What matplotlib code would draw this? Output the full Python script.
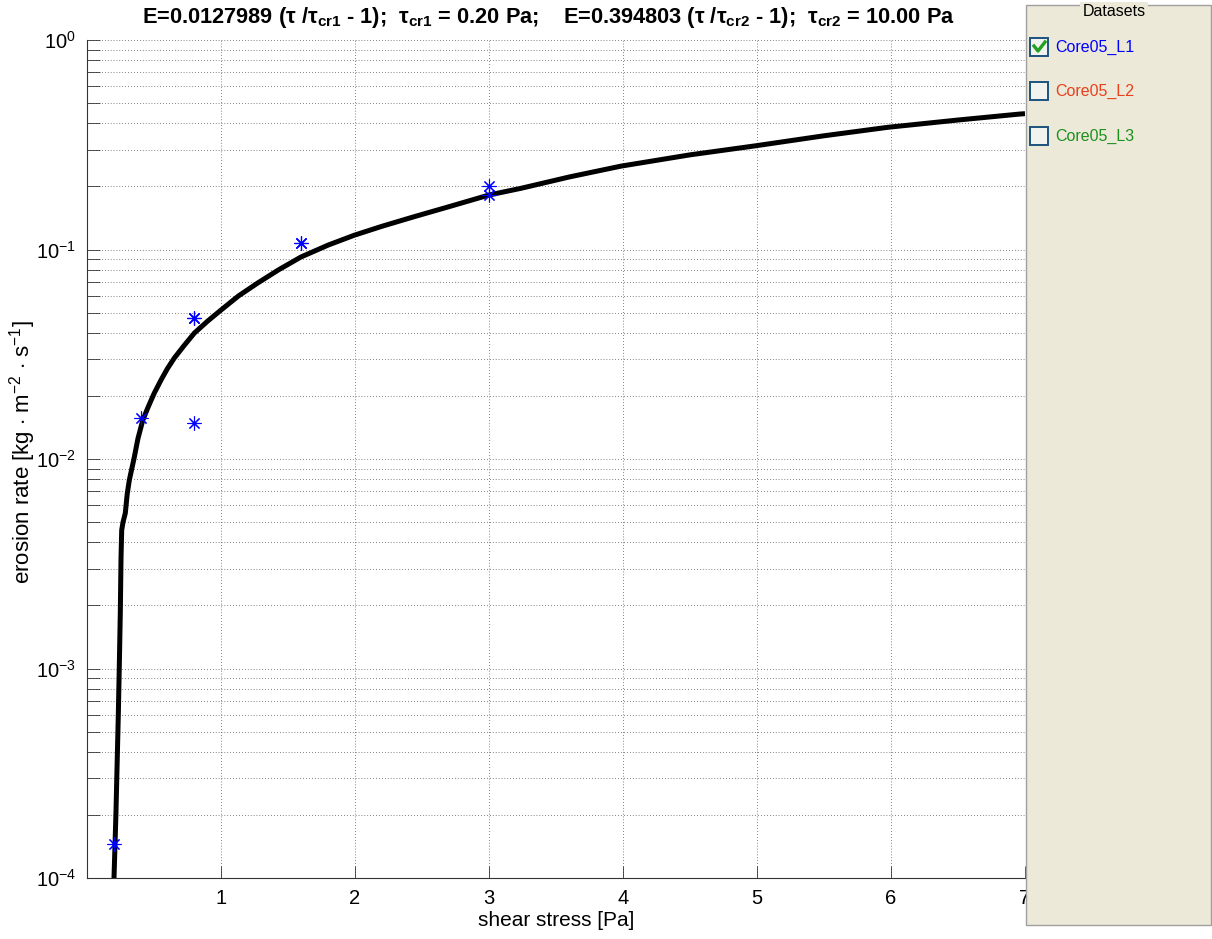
import math
import matplotlib
matplotlib.use("Agg")
import matplotlib.pyplot as plt
from matplotlib.patches import Rectangle
from matplotlib.lines import Line2D
from matplotlib.ticker import LogLocator, FixedLocator, FuncFormatter, NullFormatter

plt.rcParams['font.family'] = ['Liberation Sans', 'DejaVu Sans']
plt.rcParams['mathtext.fontset'] = 'custom'
plt.rcParams['mathtext.rm'] = 'Liberation Sans'
plt.rcParams['mathtext.it'] = 'Liberation Sans'
plt.rcParams['mathtext.bf'] = 'Liberation Sans:bold'

# ---- data ----
curve_tau = [0.2008, 0.2015, 0.209, 0.216, 0.234, 0.241, 0.2485, 0.254, 0.259, 0.269,
             0.286, 0.30, 0.316, 0.353, 0.38, 0.416, 0.453, 0.50, 0.552, 0.60,
             0.651, 0.72, 0.801, 0.90, 1.0, 1.13, 1.274, 1.43, 1.597, 1.8,
             1.995, 2.2, 2.443, 2.7, 3.0, 3.24, 3.6, 3.985, 4.5, 4.98,
             5.5, 5.975, 6.5, 6.958, 7.0]
curve_E = [6e-5, 1.0e-4, 1.44e-4, 2.04e-4, 6.14e-4, 1.02e-3, 1.84e-3, 3.40e-3, 4.58e-3, 5.0e-3,
           5.52e-3, 6.8e-3, 7.94e-3, 1.02e-2, 1.25e-2, 1.53e-2, 1.75e-2, 2.05e-2, 2.38e-2, 2.7e-2,
           3.03e-2, 3.45e-2, 3.99e-2, 4.55e-2, 5.14e-2, 6.0e-2, 6.92e-2, 8.0e-2, 9.21e-2, 0.105,
           0.117, 0.129, 0.1435, 0.160, 0.182, 0.196, 0.222, 0.250, 0.283, 0.312,
           0.349, 0.383, 0.415, 0.443, 0.445]

pts_tau = [0.2, 0.4, 0.8, 0.8, 0.8, 1.6, 1.6, 3.0, 3.0]
pts_E = [1.45e-4, 0.0157, 0.047, 0.047, 0.0149, 0.107, 0.107, 0.200, 0.182]

x_ticks = [1, 2, 3, 4, 5, 6, 7]
y_major = [1e-4, 1e-3, 1e-2, 1e-1, 1e0]

datasets = ['Core05_L1', 'Core05_L2', 'Core05_L3']
dataset_colors = ['#0000FF', '#E8401E', '#1E901E']
dataset_checked = [True, False, False]

title_text = (r'E=0.0127989 ($\mathbf{\tau}$ /$\mathbf{\tau_{cr1}}$ - 1);  $\mathbf{\tau_{cr1}}$ = 0.20 Pa;    '
              r'E=0.394803 ($\mathbf{\tau}$ /$\mathbf{\tau_{cr2}}$ - 1);  $\mathbf{\tau_{cr2}}$ = 10.00 Pa')

W, H = 1212, 939
fig = plt.figure(figsize=(W / 100, H / 100), dpi=100)
fig.patch.set_facecolor('white')


def fx(x):
    return x / W


def fy(y):
    return 1 - y / H


ax_left, ax_right, ax_top, ax_bottom = 87, 1025, 40, 878
ax = fig.add_axes([fx(ax_left), fy(ax_bottom), (ax_right - ax_left) / W, (ax_bottom - ax_top) / H])
ax.set_yscale('log')
ax.set_xlim(0, 7)
ax.set_ylim(1e-4, 1)

ax.plot(curve_tau, curve_E, color='black', lw=3.6, solid_capstyle='butt',
        solid_joinstyle='round', zorder=3)
ax.plot(pts_tau, pts_E, linestyle='none', marker=(8, 2, 0), markersize=10,
        markeredgewidth=0.8, color='#0000FF', zorder=4)

ax.xaxis.set_major_locator(FixedLocator(x_ticks))
ax.xaxis.set_major_formatter(FuncFormatter(lambda v, p: '%d' % v))
ax.yaxis.set_major_locator(FixedLocator(y_major))
ax.yaxis.set_minor_locator(LogLocator(base=10, subs=range(2, 10), numticks=20))
ax.yaxis.set_minor_formatter(NullFormatter())
ax.yaxis.set_major_formatter(FuncFormatter(
    lambda v, p: r'$\mathregular{10^{%d}}$' % round(math.log10(v))))

ax.tick_params(axis='both', which='both', direction='in', labelsize=14.5, width=0.6,
               color='#333333', top=False, right=False)
ax.tick_params(axis='both', which='major', length=9)
ax.tick_params(axis='y', which='minor', length=9)
ax.tick_params(axis='x', pad=8)
ax.tick_params(axis='y', pad=8)

ax.spines['top'].set_visible(False)
ax.spines['right'].set_visible(False)
for s in ('left', 'bottom'):
    ax.spines[s].set_linewidth(0.8)
    ax.spines[s].set_color('#333333')

grid_kw = dict(color='#333333', linewidth=0.7, linestyle=(0, (0.6, 2.4)))
ax.grid(True, which='major', axis='both', **grid_kw)
ax.grid(True, which='minor', axis='y', **grid_kw)
ax.set_axisbelow(True)

ax.set_xlabel('shear stress [Pa]', fontsize=15, labelpad=2)
ax.set_ylabel(r'erosion rate [kg $\cdot$ m$^{\mathregular{-2}}$ $\cdot$ s$^{\mathregular{-1}}$]',
              fontsize=16)
ax.yaxis.set_label_coords((38 - ax_left) / (ax_right - ax_left), 0.508)
fig.text(fx(548), fy(17), title_text, ha='center', va='center', fontsize=15.7,
         fontweight='bold')

# ---- Datasets panel ----
panel = Rectangle((fx(1026), fy(925)), (1211 - 1026) / W, (925 - 5) / H,
                  transform=fig.transFigure, facecolor='#ECE9D8', edgecolor='#A0A0A0',
                  linewidth=1.0, zorder=10)
fig.add_artist(panel)
fig.text(fx(1114), fy(12), 'Datasets', ha='center', va='center', fontsize=11.5,
         color='black', zorder=12,
         bbox=dict(boxstyle='square,pad=0.15', facecolor='#ECE9D8', edgecolor='none'))

row_y = [47, 91, 136]
for name, col, chk, yy in zip(datasets, dataset_colors, dataset_checked, row_y):
    box = Rectangle((fx(1030), fy(yy + 9)), 18 / W, 18 / H, transform=fig.transFigure,
                    facecolor='#F2F2EE', edgecolor='#1C5180', linewidth=1.4, zorder=11)
    fig.add_artist(box)
    if chk:
        fig.add_artist(Line2D([fx(1034), fx(1038), fx(1045)],
                              [fy(yy - 1), fy(yy + 4), fy(yy - 5)],
                              transform=fig.transFigure, color='#21A121', linewidth=2.4,
                              zorder=12))
    fig.text(fx(1055), fy(yy), name, ha='left', va='center', fontsize=11.5, color=col,
             zorder=12)

fig.savefig('out.png', dpi=100)
